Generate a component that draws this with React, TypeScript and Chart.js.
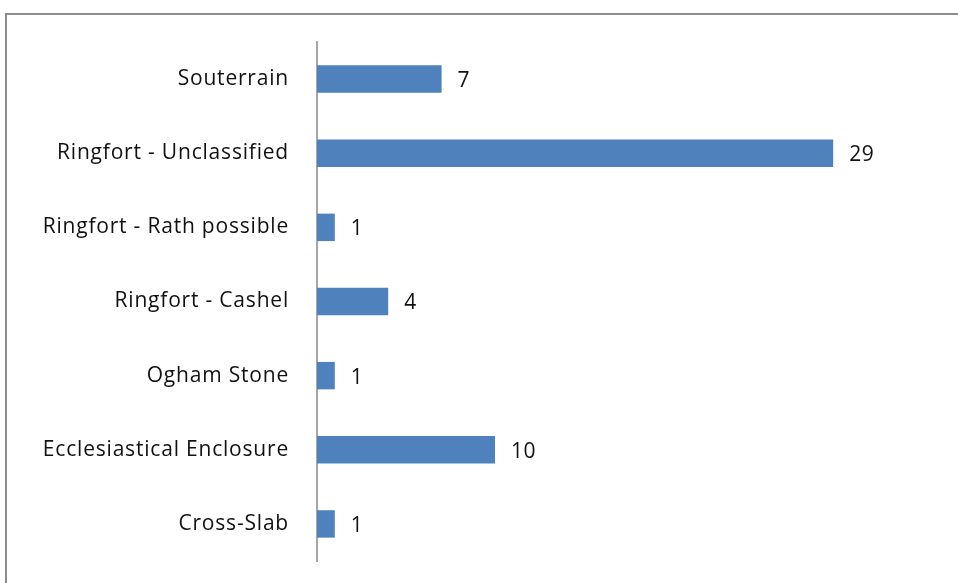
import React, { useEffect, useRef } from "react";
import { Chart, registerables } from "chart.js";

Chart.register(...registerables);

const categories = [
  "Souterrain",
  "Ringfort - Unclassified",
  "Ringfort - Rath possible",
  "Ringfort - Cashel",
  "Ogham Stone",
  "Ecclesiastical Enclosure",
  "Cross-Slab",
];
const counts = [7, 29, 1, 4, 1, 10, 1];

const FONT = "'Open Sans', Lato, sans-serif";

const frame = {
  id: "frame",
  beforeDraw(chart: any) {
    const { ctx } = chart;
    ctx.save();
    ctx.fillStyle = "#ffffff";
    ctx.fillRect(0, 0, chart.width, chart.height);
    ctx.strokeStyle = "#8c8c8c";
    ctx.lineWidth = 2;
    ctx.beginPath();
    ctx.moveTo(6, chart.height);
    ctx.lineTo(6, 14);
    ctx.lineTo(chart.width, 14);
    ctx.stroke();
    ctx.restore();
    (ctx as any).letterSpacing = "0.8px";
  },
};

const valueLabels = {
  id: "valueLabels",
  afterDatasetsDraw(chart: any) {
    const { ctx } = chart;
    const meta = chart.getDatasetMeta(0);
    ctx.save();
    (ctx as any).letterSpacing = "0.5px";
    ctx.font = `21px ${FONT}`;
    ctx.fillStyle = "#111111";
    ctx.textAlign = "left";
    ctx.textBaseline = "middle";
    meta.data.forEach((bar: any, i: number) => {
      ctx.fillText(String(counts[i]), bar.x + 16, bar.y + 2);
    });
    ctx.restore();
  },
};

export default function App() {
  const ref = useRef<HTMLCanvasElement>(null);
  useEffect(() => {
    if (!ref.current) return;
    const chart = new Chart(ref.current, {
      type: "bar",
      data: {
        labels: categories,
        datasets: [
          {
            data: counts,
            backgroundColor: "#4f81bd",
            borderWidth: 0,
            barPercentage: 0.37,
            categoryPercentage: 1,
          },
        ],
      },
      options: {
        indexAxis: "y",
        animation: false,
        responsive: false,
        maintainAspectRatio: false,
        layout: { padding: { left: 0, right: 18, top: 42, bottom: 22 } },
        plugins: { legend: { display: false }, tooltip: { enabled: false } },
        scales: {
          x: {
            display: false,
            min: 0,
            max: 35,
          },
          y: {
            grid: { display: false },
            border: { display: true, color: "#a6a6a6", width: 2 },
            ticks: {
              color: "#111111",
              font: { family: FONT, size: 21 },
              padding: 20,
            },
            afterFit(scale: any) {
              scale.width = 317;
              scale.paddingTop = 0;
              scale.paddingBottom = 0;
            },
          },
        },
      },
      plugins: [frame, valueLabels],
    });
    return () => chart.destroy();
  }, []);
  return (
    <div style={{ position: "absolute", left: 0, top: 0, width: 958, height: 583 }}>
      <canvas ref={ref} width={958} height={583} style={{ display: "block" }} />
    </div>
  );
}
